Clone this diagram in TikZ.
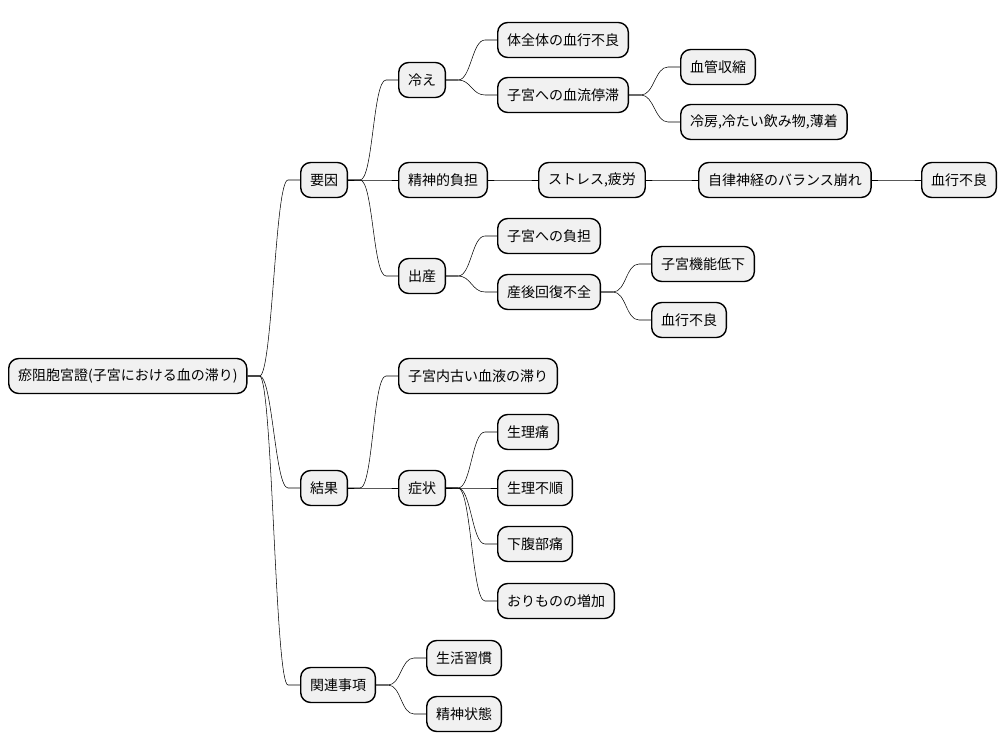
\documentclass[tikz,border=0pt]{standalone}
\usepackage{fontspec}
\setmainfont{Noto Sans CJK JP}
\usetikzlibrary{calc}

\definecolor{boxgray}{HTML}{F1F1F1}

\tikzset{
  idea/.style={draw=black, line width=1.05pt, fill=boxgray, rounded corners=7.5pt,
    anchor=west, minimum height=26.25pt, inner xsep=7pt, inner ysep=0pt,
    font=\fontsize{10.5pt}{12pt}\selectfont},
  branch/.style={line width=0.75pt, to path={-- ++(12,0)
    .. controls +(13,0) and ($(\tikztotarget)-(25,0)$) .. ($(\tikztotarget)-(12,0)$)
    -- (\tikztotarget)}}
}

\begin{document}
\begin{tikzpicture}[x=0.75pt, y=-0.75pt]
    \useasboundingbox (0,0) rectangle (1008,752);
    \node[idea] (root) at (8, 376) {瘀阻胞宮證(子宮における血の滞り)};
    \node[idea] (yoin) at (300, 180) {要因};
    \node[idea] (hie) at (398, 80) {冷え};
    \node[idea] (zentai) at (497, 40) {体全体の血行不良};
    \node[idea] (teitai) at (497, 95) {子宮への血流停滞};
    \node[idea] (shushuku) at (680, 67) {血管収縮};
    \node[idea] (reibo) at (680, 122) {冷房,冷たい飲み物,薄着};
    \node[idea] (seishin) at (398, 180) {精神的負担};
    \node[idea] (stress) at (538, 180) {ストレス,疲労};
    \node[idea] (jiritsu) at (698, 180) {自律神経のバランス崩れ};
    \node[idea] (kekko) at (921, 180) {血行不良};
    \node[idea] (shussan) at (398, 276) {出産};
    \node[idea] (futan) at (497, 236) {子宮への負担};
    \node[idea] (sango) at (497, 292) {産後回復不全};
    \node[idea] (kino) at (651, 264) {子宮機能低下};
    \node[idea] (kekko2) at (651, 320) {血行不良};
    \node[idea] (kekka) at (300, 488) {結果};
    \node[idea] (furui) at (398, 376) {子宮内古い血液の滞り};
    \node[idea] (shojo) at (398, 488) {症状};
    \node[idea] (seiritsu) at (497, 432) {生理痛};
    \node[idea] (fujun) at (497, 488) {生理不順};
    \node[idea] (kafuku) at (497, 544) {下腹部痛};
    \node[idea] (orimono) at (497, 601) {おりものの増加};
    \node[idea] (kanren) at (300, 685) {関連事項};
    \node[idea] (shukan) at (426, 658) {生活習慣};
    \node[idea] (jotai) at (426, 714) {精神状態};
    % branches
    \draw (root.east) to[branch] (yoin.west);
    \draw (root.east) to[branch] (kekka.west);
    \draw (root.east) to[branch] (kanren.west);
    \draw (yoin.east) to[branch] (hie.west);
    \draw (yoin.east) to[branch] (seishin.west);
    \draw (yoin.east) to[branch] (shussan.west);
    \draw (hie.east) to[branch] (zentai.west);
    \draw (hie.east) to[branch] (teitai.west);
    \draw (teitai.east) to[branch] (shushuku.west);
    \draw (teitai.east) to[branch] (reibo.west);
    \draw (seishin.east) to[branch] (stress.west);
    \draw (stress.east) to[branch] (jiritsu.west);
    \draw (jiritsu.east) to[branch] (kekko.west);
    \draw (shussan.east) to[branch] (futan.west);
    \draw (shussan.east) to[branch] (sango.west);
    \draw (sango.east) to[branch] (kino.west);
    \draw (sango.east) to[branch] (kekko2.west);
    \draw (kekka.east) to[branch] (furui.west);
    \draw (kekka.east) to[branch] (shojo.west);
    \draw (shojo.east) to[branch] (seiritsu.west);
    \draw (shojo.east) to[branch] (fujun.west);
    \draw (shojo.east) to[branch] (kafuku.west);
    \draw (shojo.east) to[branch] (orimono.west);
    \draw (kanren.east) to[branch] (shukan.west);
    \draw (kanren.east) to[branch] (jotai.west);
\end{tikzpicture}
\end{document}
